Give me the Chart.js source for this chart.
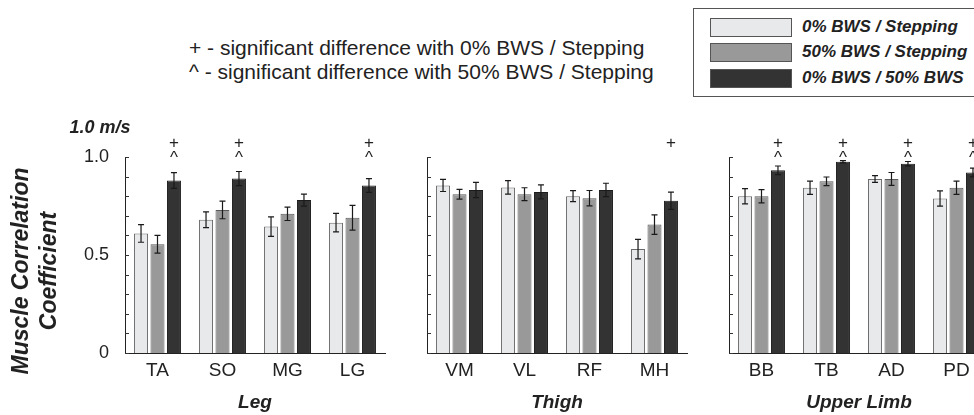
<!DOCTYPE html>
<html>
<head>
<meta charset="utf-8">
<script src="https://cdn.jsdelivr.net/npm/chart.js@4.4.1/dist/chart.umd.min.js"></script>
<style>
  html, body { margin: 0; padding: 0; background: #fff; overflow: hidden; }
  #page { position: relative; width: 974px; height: 415px; overflow: hidden;
          font-family: "Liberation Sans", Arial, sans-serif; color: #222; }
  canvas { position: absolute; top: 0; }
  .note { position: absolute; left: 189px; font-size: 21px; line-height: 24px; white-space: nowrap; }
  #legend { position: absolute; left: 693px; top: 8px; width: 300px; height: 89px;
            border: 1px solid #555; box-sizing: border-box; }
  .row { position: absolute; left: 16px; height: 20px; display: flex; align-items: center; }
  .sw { width: 82px; height: 19px; box-sizing: border-box; border: 1px solid #555; }
  .lab { margin-left: 10px; font-weight: bold; font-style: italic; font-size: 17px; white-space: nowrap; }
</style>
</head>
<body>
<div id="page">
  <div class="note" style="top:36px">+ - significant difference with 0% BWS / Stepping</div>
  <div class="note" style="top:60px">^ - significant difference with 50% BWS / Stepping</div>
  <div id="legend"></div>
  <canvas id="legChart" width="395" height="415" style="left:0px"></canvas>
  <canvas id="thighChart" width="300" height="415" style="left:400px"></canvas>
  <canvas id="armChart" width="300" height="415" style="left:700px"></canvas>
</div>
<script>
// series
const seriesNames = ['0% BWS / Stepping', '50% BWS / Stepping', '0% BWS / 50% BWS'];
const seriesFill = ['#e8e9eb', '#999999', '#333333'];
const seriesBorder = ['#6a6a6a', '#5a5a5a', '#1c1c1c'];

// Leg
const legCats = ['TA', 'SO', 'MG', 'LG'];
const legStep0 = [0.61, 0.68, 0.645, 0.665];
const legStep50 = [0.555, 0.73, 0.71, 0.69];
const legBws = [0.88, 0.89, 0.78, 0.855];
const legErr0 = [0.045, 0.04, 0.05, 0.047];
const legErr50 = [0.045, 0.045, 0.034, 0.063];
const legErrBws = [0.04, 0.036, 0.031, 0.035];
const legMarks = ['+^', '+^', '', '+^'];

// Thigh
const thighCats = ['VM', 'VL', 'RF', 'MH'];
const thighStep0 = [0.855, 0.845, 0.8, 0.53];
const thighStep50 = [0.81, 0.81, 0.79, 0.655];
const thighBws = [0.832, 0.822, 0.832, 0.777];
const thighErr0 = [0.031, 0.034, 0.028, 0.05];
const thighErr50 = [0.025, 0.033, 0.039, 0.05];
const thighErrBws = [0.039, 0.036, 0.034, 0.044];
const thighMarks = ['', '', '', '+'];

// Upper limb
const armCats = ['BB', 'TB', 'AD', 'PD'];
const armStep0 = [0.8, 0.843, 0.888, 0.788];
const armStep50 = [0.8, 0.876, 0.888, 0.843];
const armBws = [0.932, 0.976, 0.966, 0.921];
const armErr0 = [0.039, 0.034, 0.017, 0.039];
const armErr50 = [0.034, 0.022, 0.033, 0.034];
const armErrBws = [0.022, 0.006, 0.011, 0.022];
const armMarks = ['+^', '+^', '+^', '+^'];

// y axis
const yTickLabels = { 0: '0', 0.5: '0.5', 1: '1.0' };
const yTitle = ['Muscle Correlation', 'Coefficient'];
const speedLabel = '1.0 m/s';

const FONT = '"Liberation Sans", Arial, sans-serif';

// legend built from the series arrays
const legendBox = document.getElementById('legend');
seriesNames.forEach((name, i) => {
  const row = document.createElement('div');
  row.className = 'row';
  row.style.top = [8, 33, 59][i] + 'px';
  row.innerHTML = '<div class="sw" style="background:' + seriesFill[i] + '"></div><div class="lab">' + name + '</div>';
  legendBox.appendChild(row);
});

// inward ticks, error bars and significance markers
const extras = {
  id: 'extras',
  afterDatasetsDraw(chart, args, opts) {
    const { ctx, chartArea } = chart;
    const y = chart.scales.y;
    ctx.save();

    ctx.strokeStyle = '#333';
    ctx.lineWidth = 1;
    y.ticks.forEach(t => {
      const py = Math.round(y.getPixelForValue(t.value)) + 0.5;
      ctx.beginPath();
      ctx.moveTo(chartArea.left, py);
      ctx.lineTo(chartArea.left + 4, py);
      ctx.stroke();
    });

    ctx.strokeStyle = '#1a1a1a';
    ctx.lineWidth = 1.2;
    chart.data.datasets.forEach((ds, di) => {
      chart.getDatasetMeta(di).data.forEach((bar, i) => {
        const v = ds.data[i], e = opts.errs[di][i];
        const top = y.getPixelForValue(v + e), bot = y.getPixelForValue(v - e);
        ctx.beginPath();
        ctx.moveTo(bar.x, top); ctx.lineTo(bar.x, bot);
        ctx.moveTo(bar.x - 3, top); ctx.lineTo(bar.x + 3, top);
        ctx.moveTo(bar.x - 3, bot); ctx.lineTo(bar.x + 3, bot);
        ctx.stroke();
      });
    });

    const last = chart.getDatasetMeta(2);
    ctx.fillStyle = '#222';
    ctx.textAlign = 'center';
    ctx.textBaseline = 'middle';
    opts.marks.forEach((m, i) => {
      const x = last.data[i].x;
      if (m.includes('+')) {
        ctx.font = '17px ' + FONT;
        ctx.fillText('+', x, chartArea.top - 14);
      }
      if (m.includes('^')) {
        ctx.font = '17px ' + FONT;
        ctx.fillText('^', x, chartArea.top + 1);
      }
    });

    if (opts.yTitle) {
      ctx.font = 'italic bold 23px ' + FONT;
      ctx.save();
      ctx.translate(22, 271);
      ctx.rotate(-Math.PI / 2);
      ctx.fillText(opts.yTitle[0], 0, 0);
      ctx.restore();
      ctx.save();
      ctx.translate(50, 271);
      ctx.rotate(-Math.PI / 2);
      ctx.fillText(opts.yTitle[1], 0, 0);
      ctx.restore();
      ctx.font = 'italic bold 18px ' + FONT;
      ctx.fillText(opts.speed, 100, 128);
    }
    ctx.restore();
  }
};

function makePanel(canvasId, cats, values, errs, marks, title, axisWidth, padRight, showYLabels) {
  const ctx = document.getElementById(canvasId);
  const datasets = values.map((data, i) => ({
    label: seriesNames[i],
    data: data,
    backgroundColor: seriesFill[i],
    borderColor: seriesBorder[i],
    borderWidth: 1,
    categoryPercentage: 0.76,
    barPercentage: 0.85
  }));

  return new Chart(ctx, {
    type: 'bar',
    data: { labels: cats, datasets: datasets },
    plugins: [extras],
    options: {
      responsive: false,
      animation: false,
      layout: { padding: { left: 0, right: padRight, top: 157, bottom: 0 } },
      plugins: {
        legend: { display: false },
        tooltip: { enabled: false },
        extras: {
          errs: errs,
          marks: marks,
          yTitle: showYLabels ? yTitle : null,
          speed: speedLabel
        }
      },
      scales: {
        x: {
          grid: { display: false },
          border: { display: true, color: '#222', width: 1 },
          ticks: {
            color: '#222',
            font: { family: FONT, size: 19 },
            padding: -2,
            maxRotation: 0,
            autoSkip: false
          },
          title: {
            display: true,
            text: title,
            color: '#222',
            font: { family: FONT, size: 19, weight: 'bold', style: 'italic' },
            padding: { top: 0, bottom: 1 }
          },
          afterFit: scale => { scale.height = 62; }
        },
        y: {
          min: 0,
          max: 1,
          grid: { display: false },
          border: { display: true, color: '#222', width: 1 },
          ticks: {
            stepSize: 0.1,
            autoSkip: false,
            color: '#222',
            font: { family: FONT, size: 18 },
            padding: 8,
            callback: v => {
              if (!showYLabels) return '';
              const key = Math.round(v * 10) / 10;
              return yTickLabels[key] !== undefined ? yTickLabels[key] : '';
            }
          },
          afterFit: scale => { scale.width = axisWidth; }
        }
      }
    }
  });
}

makePanel('legChart', legCats, [legStep0, legStep50, legBws], [legErr0, legErr50, legErrBws],
  legMarks, 'Leg', 125, 10, true);
makePanel('thighChart', thighCats, [thighStep0, thighStep50, thighBws], [thighErr0, thighErr50, thighErrBws],
  thighMarks, 'Thigh', 27, 13, false);
makePanel('armChart', armCats, [armStep0, armStep50, armBws], [armErr0, armErr50, armErrBws],
  armMarks, 'Upper Limb', 29, 11, false);
</script>
</body>
</html>
